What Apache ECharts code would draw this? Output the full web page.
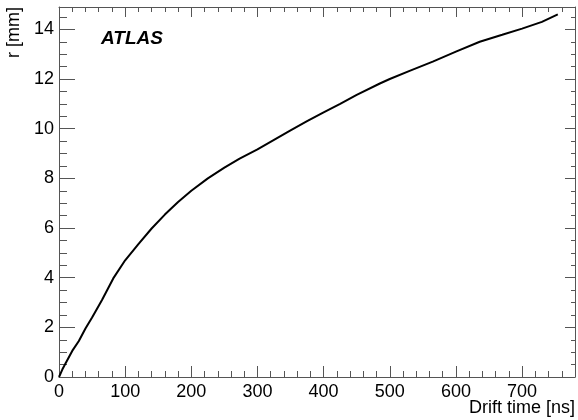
<!DOCTYPE html>
<html>
<head>
<meta charset="utf-8">
<script src="https://cdn.jsdelivr.net/npm/echarts@6/dist/echarts.min.js"></script>
<style>
  html, body { margin: 0; padding: 0; background: #fff; }
  #main { width: 578px; height: 420px; }
</style>
</head>
<body>
<div id="main"></div>
<script>
// r(t) relation
var driftTime = [0, 5, 10, 20, 30, 40, 50, 65, 82, 100, 120, 140, 160, 180, 200, 225, 250, 273, 300, 325, 350, 375, 400, 425, 450, 485, 500, 530, 565, 600, 636, 670, 700, 730, 754]
var radius = [0, 0.3, 0.55, 1.05, 1.45, 1.95, 2.4, 3.1, 3.97, 4.7, 5.35, 5.98, 6.54, 7.05, 7.5, 8.0, 8.43, 8.79, 9.17, 9.55, 9.93, 10.3, 10.66, 11.0, 11.36, 11.82, 12.0, 12.33, 12.7, 13.1, 13.5, 13.78, 14.03, 14.3, 14.6]

var xMax = 780
var yMax = 14.9

var font = 'Liberation Sans, Arial, Helvetica, sans-serif'
var frameColor = '#555'

var chart = echarts.init(document.getElementById('main'))

var pts = driftTime.map(function (t, i) { return [t, radius[i]] })

// onZero off, otherwise the mirror axes snap onto x=0 / y=0
function xAxisCfg(pos, major, minor, showLabels) {
  return {
    type: 'value', position: pos, min: 0, max: xMax, interval: 100,
    axisLine: { show: true, onZero: false, lineStyle: { color: frameColor, width: 1 } },
    axisTick: { show: true, inside: true, length: major, lineStyle: { color: frameColor } },
    minorTick: { show: true, splitNumber: 5, length: minor, lineStyle: { color: frameColor } },
    axisLabel: { show: showLabels, showMaxLabel: false, margin: 6, fontSize: 18, color: '#000', fontFamily: font },
    splitLine: { show: false }
  }
}

function yAxisCfg(pos, major, minor, showLabels) {
  return {
    type: 'value', position: pos, min: 0, max: yMax, interval: 2,
    axisLine: { show: true, onZero: false, lineStyle: { color: frameColor, width: 1 } },
    axisTick: { show: true, inside: true, length: major, lineStyle: { color: frameColor } },
    minorTick: { show: true, splitNumber: 4, length: minor, lineStyle: { color: frameColor } },
    axisLabel: { show: showLabels, showMaxLabel: false, margin: 5, fontSize: 18, color: '#000', fontFamily: font },
    splitLine: { show: false }
  }
}

var option = {
  animation: false,
  grid: { left: 59, right: 3, top: 7, bottom: 43, containLabel: false },
  xAxis: [xAxisCfg('bottom', 11, 6, true), xAxisCfg('top', 10, 5, false)],
  yAxis: [yAxisCfg('left', 16, 8, true), yAxisCfg('right', 10, 4, false)],
  graphic: [
    { type: 'text', right: 3, top: 399, style: { text: 'Drift time [ns]', fontSize: 18, fontFamily: font, fill: '#000' } },
    { type: 'text', left: 5, top: 7, rotation: Math.PI / 2, originX: 0, originY: 0,
      style: { text: 'r [mm]', fontSize: 18, fontFamily: font, fill: '#000', align: 'right', verticalAlign: 'top' } },
    { type: 'text', left: 101, top: 29, style: { text: 'ATLAS', fontSize: 19, fontWeight: 'bold', fontStyle: 'italic', fontFamily: font, fill: '#000' } }
  ],
  series: [
    {
      type: 'line',
      data: pts,
      showSymbol: false,
      smooth: false,
      lineStyle: { color: '#000', width: 2 }
    }
  ]
}

chart.setOption(option)
</script>
</body>
</html>
